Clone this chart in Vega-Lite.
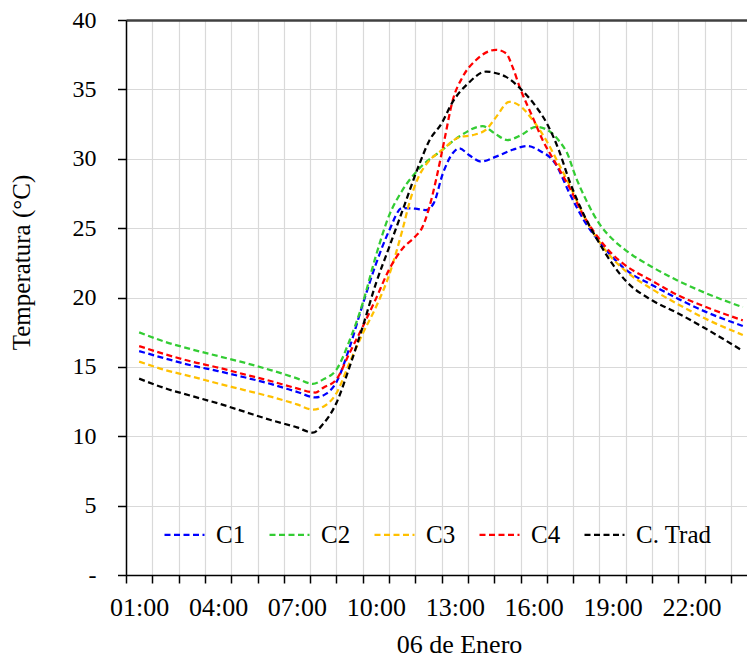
{
  "$schema": "https://vega.github.io/schema/vega-lite/v6.json",
  "autosize": {"type": "none"},
  "width": 621,
  "height": 555,
  "padding": {"left": 126, "top": 20, "right": 0, "bottom": 83},
  "background": "white",
  "config": {
    "font": "Liberation Serif",
    "view": {"stroke": null},
    "axis": {"labelFont": "Liberation Serif", "titleFont": "Liberation Serif", "labelColor": "black", "titleColor": "black", "titleFontWeight": "normal", "domainColor": "black", "tickColor": "black", "domainWidth": 1.5, "tickWidth": 1.5, "gridColor": "#d9d9d9", "gridWidth": 1.2},
    "legend": {"labelFont": "Liberation Serif"}
  },
  "data": {"values": [
    {"s":"C1","h":1,"t":16.14},{"s":"C1","h":2,"t":15.6},{"s":"C1","h":3,"t":15.1},{"s":"C1","h":4,"t":14.7},{"s":"C1","h":5,"t":14.25},{"s":"C1","h":6,"t":13.77},{"s":"C1","h":7,"t":13.2},{"s":"C1","h":7.7,"t":12.8},{"s":"C1","h":8.1,"t":13.05},{"s":"C1","h":8.5,"t":13.9},{"s":"C1","h":9,"t":16.4},{"s":"C1","h":9.5,"t":19.5},{"s":"C1","h":10,"t":22.4},{"s":"C1","h":10.5,"t":24.8},{"s":"C1","h":11,"t":26.45},{"s":"C1","h":11.5,"t":26.4},{"s":"C1","h":11.9,"t":26.3},{"s":"C1","h":12.2,"t":26.8},{"s":"C1","h":12.54,"t":28.9},{"s":"C1","h":12.92,"t":30.4},{"s":"C1","h":13.17,"t":30.75},{"s":"C1","h":13.55,"t":30.25},{"s":"C1","h":14.0,"t":29.8},{"s":"C1","h":14.57,"t":30.15},{"s":"C1","h":15.2,"t":30.65},{"s":"C1","h":15.77,"t":30.92},{"s":"C1","h":16.21,"t":30.6},{"s":"C1","h":16.84,"t":29.6},{"s":"C1","h":17.34,"t":27.6},{"s":"C1","h":17.9,"t":25.6},{"s":"C1","h":18.5,"t":24.0},{"s":"C1","h":19.0,"t":22.9},{"s":"C1","h":19.5,"t":22.0},{"s":"C1","h":20.5,"t":20.9},{"s":"C1","h":21.5,"t":19.9},{"s":"C1","h":22.5,"t":19.0},{"s":"C1","h":23.95,"t":17.95},
    {"s":"C2","h":1,"t":17.49},{"s":"C2","h":2,"t":16.8},{"s":"C2","h":3,"t":16.26},{"s":"C2","h":4,"t":15.78},{"s":"C2","h":5,"t":15.3},{"s":"C2","h":6,"t":14.77},{"s":"C2","h":7,"t":14.17},{"s":"C2","h":7.6,"t":13.78},{"s":"C2","h":8,"t":14.1},{"s":"C2","h":8.5,"t":14.8},{"s":"C2","h":9,"t":16.9},{"s":"C2","h":9.5,"t":19.6},{"s":"C2","h":10,"t":23.0},{"s":"C2","h":10.5,"t":25.9},{"s":"C2","h":11,"t":27.7},{"s":"C2","h":11.65,"t":29.3},{"s":"C2","h":12.5,"t":30.6},{"s":"C2","h":13.17,"t":31.6},{"s":"C2","h":14.06,"t":32.35},{"s":"C2","h":14.5,"t":31.85},{"s":"C2","h":15.0,"t":31.35},{"s":"C2","h":15.52,"t":31.7},{"s":"C2","h":16.09,"t":32.3},{"s":"C2","h":16.5,"t":32.1},{"s":"C2","h":16.96,"t":31.3},{"s":"C2","h":17.34,"t":30.1},{"s":"C2","h":17.5,"t":29.2},{"s":"C2","h":18.0,"t":27.0},{"s":"C2","h":18.5,"t":25.3},{"s":"C2","h":19.0,"t":24.2},{"s":"C2","h":19.5,"t":23.4},{"s":"C2","h":20.5,"t":22.2},{"s":"C2","h":21.5,"t":21.2},{"s":"C2","h":22.5,"t":20.35},{"s":"C2","h":23.95,"t":19.3},
    {"s":"C3","h":1,"t":15.38},{"s":"C3","h":2,"t":14.77},{"s":"C3","h":3,"t":14.3},{"s":"C3","h":4,"t":13.8},{"s":"C3","h":5,"t":13.33},{"s":"C3","h":6,"t":12.85},{"s":"C3","h":7,"t":12.3},{"s":"C3","h":7.6,"t":11.92},{"s":"C3","h":8,"t":12.13},{"s":"C3","h":8.5,"t":13.1},{"s":"C3","h":9,"t":15.3},{"s":"C3","h":9.5,"t":17.4},{"s":"C3","h":10,"t":19.3},{"s":"C3","h":10.5,"t":21.6},{"s":"C3","h":11,"t":24.8},{"s":"C3","h":11.3,"t":27.0},{"s":"C3","h":11.6,"t":28.6},{"s":"C3","h":12.0,"t":29.8},{"s":"C3","h":12.5,"t":30.6},{"s":"C3","h":13.17,"t":31.55},{"s":"C3","h":13.68,"t":31.7},{"s":"C3","h":14.19,"t":32.1},{"s":"C3","h":14.57,"t":33.0},{"s":"C3","h":15.07,"t":34.1},{"s":"C3","h":15.45,"t":33.85},{"s":"C3","h":15.96,"t":32.8},{"s":"C3","h":16.47,"t":31.35},{"s":"C3","h":16.96,"t":29.6},{"s":"C3","h":17.34,"t":28.2},{"s":"C3","h":17.9,"t":25.9},{"s":"C3","h":18.5,"t":24.0},{"s":"C3","h":19.0,"t":22.8},{"s":"C3","h":19.5,"t":21.9},{"s":"C3","h":20.5,"t":20.6},{"s":"C3","h":21.5,"t":19.5},{"s":"C3","h":22.5,"t":18.5},{"s":"C3","h":23.95,"t":17.3},
    {"s":"C4","h":1,"t":16.5},{"s":"C4","h":2,"t":15.9},{"s":"C4","h":3,"t":15.38},{"s":"C4","h":4,"t":14.95},{"s":"C4","h":5,"t":14.46},{"s":"C4","h":6,"t":13.98},{"s":"C4","h":7,"t":13.45},{"s":"C4","h":7.7,"t":13.15},{"s":"C4","h":8,"t":13.5},{"s":"C4","h":8.5,"t":14.1},{"s":"C4","h":9,"t":16.0},{"s":"C4","h":9.5,"t":17.9},{"s":"C4","h":10,"t":19.9},{"s":"C4","h":10.5,"t":22.0},{"s":"C4","h":11,"t":23.5},{"s":"C4","h":11.5,"t":24.4},{"s":"C4","h":11.75,"t":25.0},{"s":"C4","h":12.03,"t":26.5},{"s":"C4","h":12.29,"t":28.5},{"s":"C4","h":12.6,"t":31.3},{"s":"C4","h":12.92,"t":34.2},{"s":"C4","h":13.3,"t":35.9},{"s":"C4","h":13.8,"t":37.1},{"s":"C4","h":14.57,"t":37.85},{"s":"C4","h":14.95,"t":37.6},{"s":"C4","h":15.2,"t":36.6},{"s":"C4","h":15.5,"t":35.0},{"s":"C4","h":15.96,"t":33.0},{"s":"C4","h":16.34,"t":31.35},{"s":"C4","h":16.84,"t":29.67},{"s":"C4","h":17.34,"t":28.0},{"s":"C4","h":17.9,"t":25.9},{"s":"C4","h":18.5,"t":24.2},{"s":"C4","h":19.0,"t":23.1},{"s":"C4","h":19.5,"t":22.3},{"s":"C4","h":20.5,"t":21.2},{"s":"C4","h":21.5,"t":20.15},{"s":"C4","h":22.5,"t":19.35},{"s":"C4","h":23.95,"t":18.35},
    {"s":"C. Trad","h":1,"t":14.15},{"s":"C. Trad","h":2,"t":13.45},{"s":"C. Trad","h":3,"t":12.9},{"s":"C. Trad","h":4,"t":12.37},{"s":"C. Trad","h":5,"t":11.77},{"s":"C. Trad","h":6,"t":11.17},{"s":"C. Trad","h":7,"t":10.64},{"s":"C. Trad","h":7.6,"t":10.26},{"s":"C. Trad","h":8,"t":10.9},{"s":"C. Trad","h":8.5,"t":12.4},{"s":"C. Trad","h":9,"t":15.0},{"s":"C. Trad","h":9.5,"t":17.9},{"s":"C. Trad","h":10,"t":21.0},{"s":"C. Trad","h":10.5,"t":23.6},{"s":"C. Trad","h":11,"t":26.2},{"s":"C. Trad","h":11.65,"t":29.6},{"s":"C. Trad","h":12.03,"t":31.3},{"s":"C. Trad","h":12.5,"t":32.55},{"s":"C. Trad","h":12.92,"t":34.1},{"s":"C. Trad","h":13.49,"t":35.4},{"s":"C. Trad","h":14.19,"t":36.28},{"s":"C. Trad","h":14.5,"t":36.2},{"s":"C. Trad","h":14.95,"t":35.9},{"s":"C. Trad","h":15.52,"t":35.0},{"s":"C. Trad","h":16.09,"t":33.75},{"s":"C. Trad","h":16.5,"t":32.55},{"s":"C. Trad","h":16.96,"t":30.6},{"s":"C. Trad","h":17.34,"t":28.5},{"s":"C. Trad","h":17.9,"t":26.0},{"s":"C. Trad","h":18.5,"t":23.9},{"s":"C. Trad","h":19.0,"t":22.4},{"s":"C. Trad","h":19.5,"t":21.2},{"s":"C. Trad","h":20.5,"t":19.8},{"s":"C. Trad","h":21.5,"t":18.85},{"s":"C. Trad","h":22.5,"t":17.8},{"s":"C. Trad","h":23.95,"t":16.15}
  ]},
  "mark": {"type": "line", "interpolate": "monotone", "strokeWidth": 2.25, "strokeDash": [6, 3.5], "clip": true},
  "encoding": {
    "x": {
      "field": "h", "type": "quantitative",
      "scale": {"domain": [0.5, 24.11], "nice": false, "zero": false},
      "axis": {
        "values": [0.5,1.5,2.5,3.5,4.5,5.5,6.5,7.5,8.5,9.5,10.5,11.5,12.5,13.5,14.5,15.5,16.5,17.5,18.5,19.5,20.5,21.5,22.5,23.5],
        "labelExpr": "datum.value % 3 == 0.5 ? ((datum.value + 0.5) < 10 ? '0' : '') + (datum.value + 0.5) + ':00' : ''",
        "labelOffset": 13.15,
        "labelOverlap": false,
        "labelFlush": false,
        "labelBound": false,
        "labelFontSize": 26,
        "labelBaseline": "alphabetic",
        "labelPadding": 32,
        "tickSize": 8,
        "grid": true,
        "title": "06 de Enero",
        "titleFontSize": 26,
        "titleBaseline": "alphabetic",
        "titleX": 333,
        "titleY": 77
      }
    },
    "y": {
      "field": "t", "type": "quantitative",
      "scale": {"domain": [0, 40], "nice": false},
      "axis": {
        "values": [0,5,10,15,20,25,30,35,40],
        "labelExpr": "datum.value == 0 ? '-' : datum.label",
        "labelFontSize": 24,
        "labelPadding": 21.5,
        "tickSize": 8.5,
        "grid": true,
        "gridColor": {"condition": {"test": "datum.value == 40", "value": "#404040"}, "value": "#d9d9d9"},
        "gridWidth": {"condition": {"test": "datum.value == 40", "value": 2.5}, "value": 1.2},
        "title": "Temperatura (°C)",
        "titleFontSize": 25,
        "titleBaseline": "alphabetic",
        "titleAngle": -90,
        "titleX": -97,
        "titleY": 242
      }
    },
    "color": {
      "field": "s", "type": "nominal",
      "scale": {"domain": ["C1","C2","C3","C4","C. Trad"], "range": ["#0000ff","#33cc33","#ffc000","#ff0000","#000000"]},
      "legend": {
        "title": null,
        "orient": "none",
        "direction": "horizontal",
        "legendX": 37,
        "legendY": 493,
        "symbolType": "stroke",
        "symbolSize": 1600,
        "symbolStrokeWidth": 2.25,
        "symbolDash": [6, 3.5],
        "labelFontSize": 25,
        "labelColor": "black",
        "labelOffset": 10,
        "columnPadding": 19,
        "padding": 0
      }
    }
  }
}
